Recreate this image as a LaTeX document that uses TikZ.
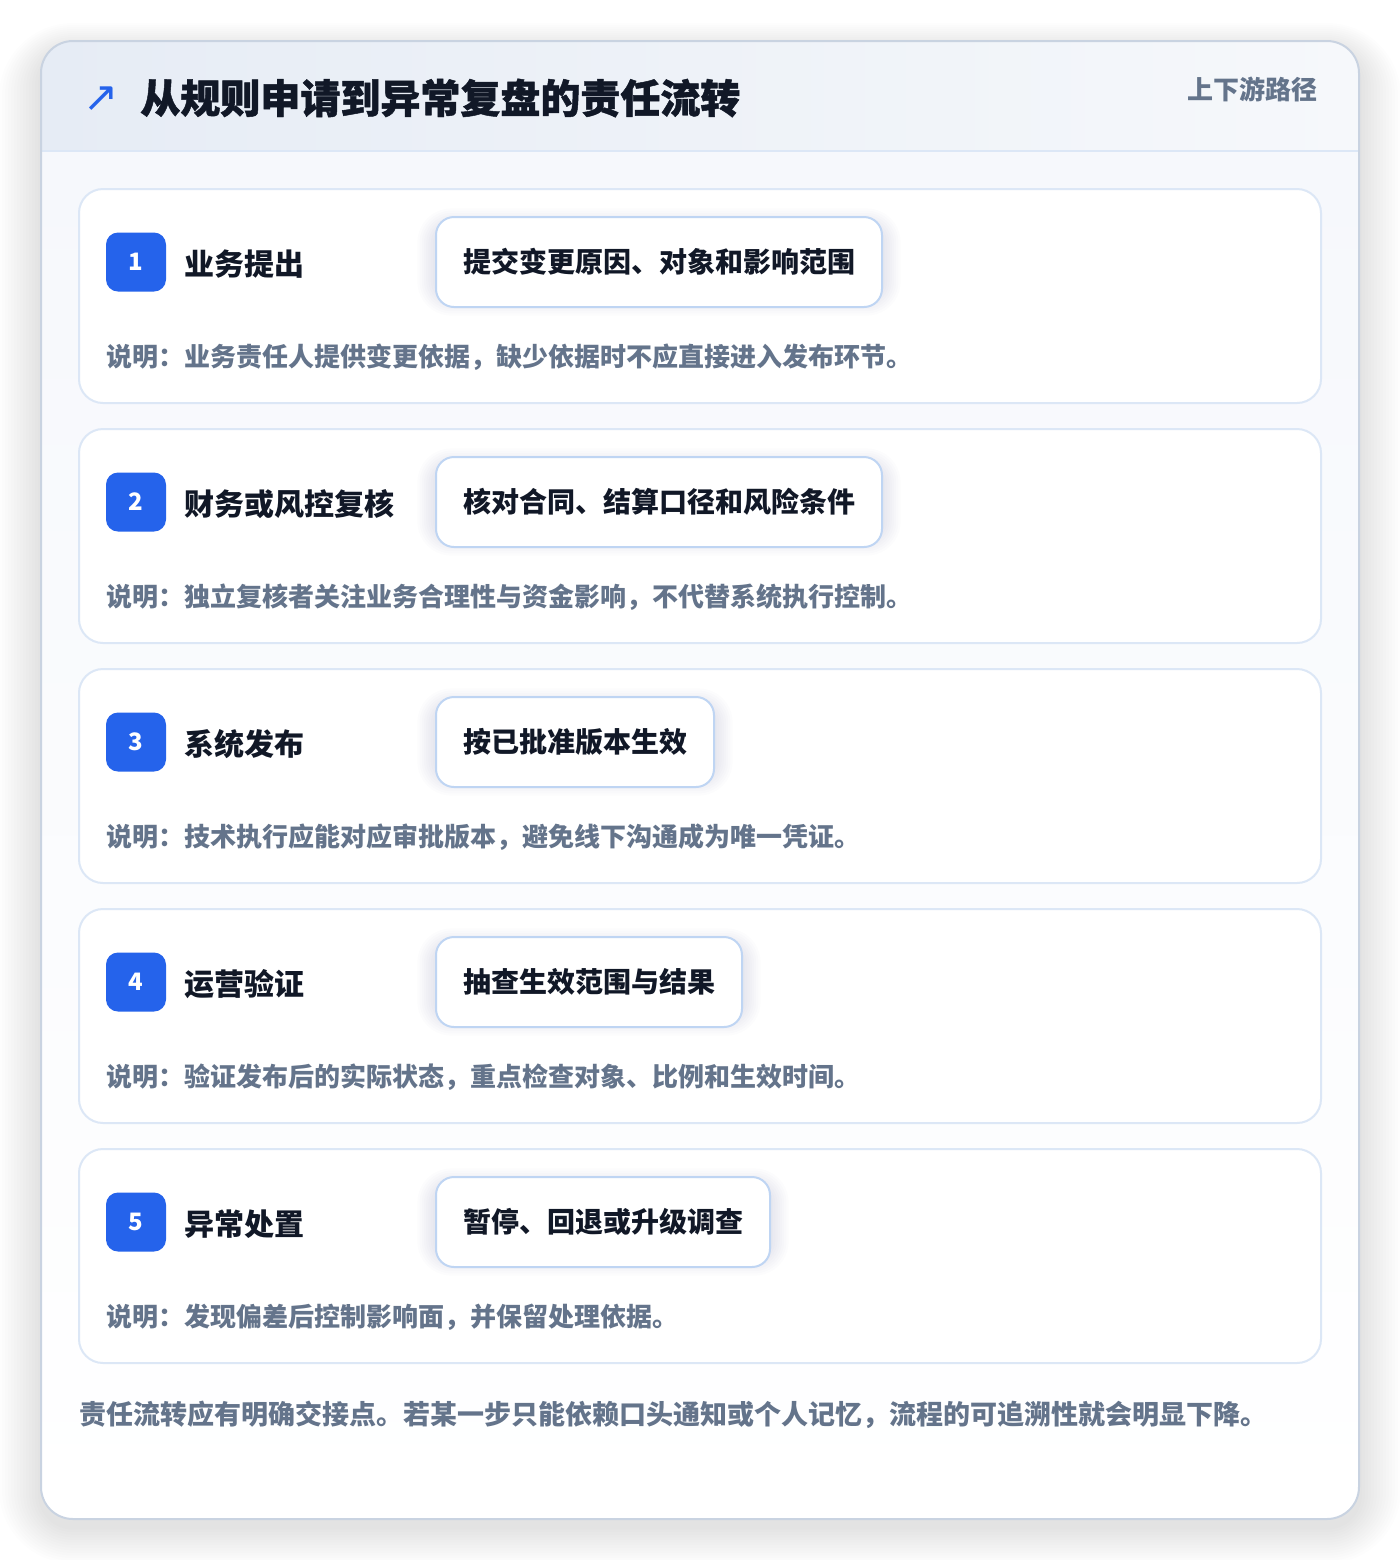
\documentclass[tikz,border=0pt]{standalone}
\usepackage{fontspec}
\setmainfont{Noto Sans CJK SC}
\newfontfamily\symfont{DejaVu Sans}
\usetikzlibrary{calc}
\pgfdeclarelayer{back}
\pgfdeclarelayer{mid}
\pgfsetlayers{back,mid,main}
\definecolor{brandblue}{HTML}{2563EB}
\definecolor{ink}{HTML}{111827}
\definecolor{muted}{HTML}{64748B}
\definecolor{cardline}{HTML}{DCE7F6}
\definecolor{pillline}{HTML}{BFD5F3}
\definecolor{outerline}{HTML}{C9D3E1}
\definecolor{headl}{HTML}{E6ECF5}
\definecolor{headr}{HTML}{F6F8FB}
\definecolor{bodytop}{HTML}{F6F8FC}
\definecolor{shadowc}{HTML}{334155}
\tikzset{
  card/.style={draw=cardline, fill=white, rounded corners=12pt, line width=1pt,
    minimum width=621pt, minimum height=107pt, inner sep=0pt},
  badge/.style={fill=brandblue, rounded corners=6pt, minimum width=30pt, minimum height=29.5pt,
    text=white, font=\bfseries\fontsize{12}{12}\selectfont, inner sep=0pt},
  steptitle/.style={anchor=west, inner sep=0pt, font=\bfseries\fontsize{15}{15}\selectfont, text=ink},
  pill/.style={anchor=west, draw=pillline, fill=white, rounded corners=9pt, line width=1pt,
    minimum height=45pt, inner xsep=13.5pt, inner ysep=0pt,
    font=\bfseries\fontsize{14}{14}\selectfont, text=ink},
  note/.style={anchor=west, inner sep=0pt, font=\bfseries\fontsize{13}{13}\selectfont, text=muted},
  softshade/.style={fill=shadowc, fill opacity=#1},
}
\newcommand\steprow[5]{%
  \begin{pgfonlayer}{back}
  \node[card] (card#1) at (700,#2+107) {};
  \end{pgfonlayer}
  \node[badge] (badge#1) at (136,#2+73) {#1};
  \node[steptitle] (title#1) at (184,#2+75) {#3};
  \node[pill] (pill#1) at (435,#2+73) {#4};
  \node[note] (note#1) at (106,#2+168) {#5};
  \begin{pgfonlayer}{mid}
  \foreach \k in {1,...,8}{
    \fill[softshade=0.011, rounded corners=9pt+\k*1pt]
      ($(pill#1.south west)+(-\k*2.2,-10+\k*2.2)$) rectangle ($(pill#1.north east)+(\k*2.2,10-\k*2.2)$);
  }
  \end{pgfonlayer}
}
\begin{document}
\begin{tikzpicture}[x=0.5pt,y=-0.5pt]
\useasboundingbox (0,0) rectangle (1400,1560);
\begin{pgfonlayer}{back}
\fill[white] (0,0) rectangle (1400,1560);
% soft outer shadow
\foreach \k in {1,...,14}{
  \fill[softshade=0.006, rounded corners=16pt+\k*1.5pt]
    (41-\k*3,41+10-\k*2) rectangle (1359+\k*3,1519+8+\k*2.6);
}
\fill[white, rounded corners=16pt] (41,41) rectangle (1359,1519);
\begin{scope}
  \clip[rounded corners=16pt] (41,41) rectangle (1359,1519);
  \shade[top color=bodytop, bottom color=white] (41,151) rectangle (1359,1519);
  \shade[left color=headl, right color=headr] (41,41) rectangle (1359,151);
  \draw[cardline, line width=1pt] (41,151) -- (1359,151);
\end{scope}
\draw[outerline, line width=1pt, rounded corners=16pt] (41,41) rectangle (1359,1519);
\end{pgfonlayer}
% header
\node[inner sep=0pt, text=brandblue, font=\symfont\fontsize{21}{21}\selectfont] (icon) at (101,99) {↗};
\node[anchor=west, inner sep=0pt, text=ink, font=\bfseries\fontsize{20}{20}\selectfont\addfontfeatures{FakeBold=1.2}] (title) at (140,98) {从规则申请到异常复盘的责任流转};
\node[anchor=east, inner sep=0pt, text=muted, font=\bfseries\fontsize{13}{13}\selectfont] (tag) at (1318,89) {上下游路径};
% steps
\steprow{1}{189}{业务提出}{提交变更原因、对象和影响范围}{说明：业务责任人提供变更依据，缺少依据时不应直接进入发布环节。}
\steprow{2}{429}{财务或风控复核}{核对合同、结算口径和风险条件}{说明：独立复核者关注业务合理性与资金影响，不代替系统执行控制。}
\steprow{3}{669}{系统发布}{按已批准版本生效}{说明：技术执行应能对应审批版本，避免线下沟通成为唯一凭证。}
\steprow{4}{909}{运营验证}{抽查生效范围与结果}{说明：验证发布后的实际状态，重点检查对象、比例和生效时间。}
\steprow{5}{1149}{异常处置}{暂停、回退或升级调查}{说明：发现偏差后控制影响面，并保留处理依据。}
% footer
\node[anchor=west, inner sep=0pt, text=muted, font=\bfseries\fontsize{13.5}{13.5}\selectfont] (footer) at (79,1415) {责任流转应有明确交接点。若某一步只能依赖口头通知或个人记忆，流程的可追溯性就会明显下降。};
\end{tikzpicture}
\end{document}
